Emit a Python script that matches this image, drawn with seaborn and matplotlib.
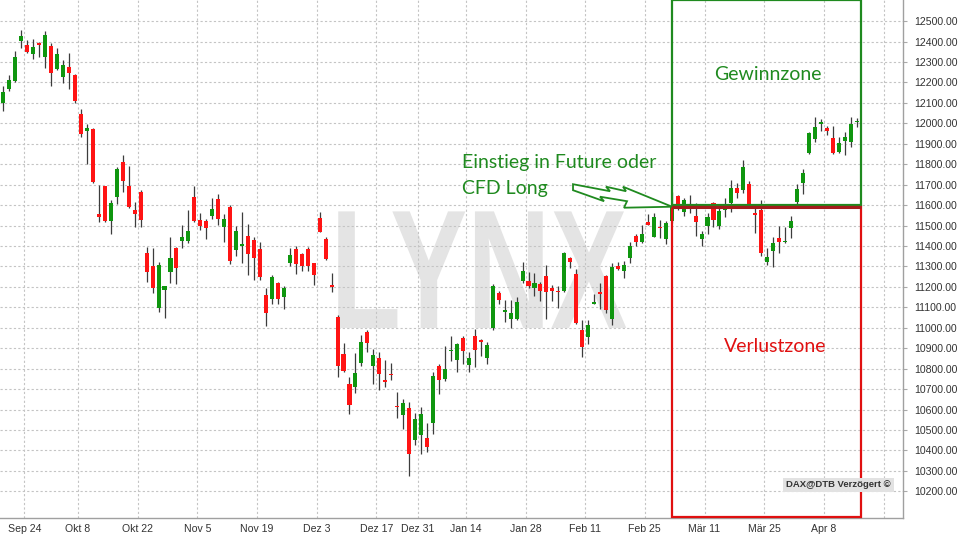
import numpy as np
import pandas as pd
import matplotlib
matplotlib.use("Agg")
import matplotlib.pyplot as plt
from matplotlib.patches import Rectangle, Polygon
from matplotlib.transforms import IdentityTransform, Affine2D
from matplotlib.patheffects import AbstractPathEffect
import seaborn as sns

# ---------------- data ----------------
holidays = ["2018-10-03", "2018-12-24", "2018-12-25", "2018-12-26", "2018-12-31", "2019-01-01"]
calendar = [d for d in pd.bdate_range("2018-09-18", "2019-04-26") if d.strftime("%Y-%m-%d") not in holidays]

opens = [12098, 12166, 12207, 12402, 12381, 12339, 12393, 12326, 12378, 12264,
         12228, 12274, 12235, 12044, 11964, 11974, 11557, 11691, 11523, 11638,
         11809, 11695, 11577, 11664, 11365, 11300, 11096, 11186, 11275, 11392,
         11422, 11422, 11640, 11526, 11521, 11547, 11632, 11493, 11593, 11381,
         11400, 11449, 11430, 11387, 11159, 11139, 11218, 11151, 11319, 11384,
         11360, 11384, 11315, 11537, 11433, 11207, 11052, 10873, 10726, 10710,
         10829, 10979, 10813, 10853, 10741, 10774, 10618, 10572, 10607, 10453,
         10474, 10463, 10534, 10813, 10751, 10887, 10840, 10950, 10819, 10958,
         10937, 10852, 10998, 11171, 11081, 11045, 11045, 11230, 11230, 11192,
         11213, 11253, 11195, 11178, 11181, 11339, 11261, 10988, 10956, 11120,
         11173, 11253, 11045, 11301, 11279, 11339, 11448, 11421, 11518, 11445,
         11493, 11432, 11520, 11644, 11568, 11585, 11546, 11432, 11498, 11612,
         11498, 11576, 11608, 11682, 11674, 11703, 11563, 11576, 11323, 11377,
         11437, 11419, 11489, 11617, 11706, 11853, 11923, 11995, 11976, 11927,
         11861, 11915, 11910, 12006]
highs = [12182, 12236, 12355, 12456, 12407, 12412, 12396, 12453, 12394, 12370,
         12309, 12345, 12241, 12070, 11997, 11976, 11699, 11694, 11625, 11788,
         11845, 11793, 11617, 11674, 11394, 11389, 11324, 11205, 11446, 11397,
         11501, 11575, 11694, 11560, 11531, 11637, 11653, 11555, 11599, 11498,
         11568, 11506, 11446, 11417, 11192, 11257, 11224, 11205, 11392, 11400,
         11364, 11397, 11319, 11568, 11446, 11270, 11060, 10925, 10759, 10878,
         10967, 10987, 10897, 10881, 10840, 10827, 10686, 10653, 10635, 10583,
         10612, 10534, 10783, 10824, 10909, 10959, 10925, 10958, 10881, 10995,
         10946, 10930, 11215, 11179, 11138, 11135, 11151, 11323, 11274, 11269,
         11225, 11306, 11208, 11204, 11372, 11347, 11287, 11040, 11037, 11164,
         11217, 11258, 11318, 11323, 11328, 11421, 11458, 11502, 11556, 11559,
         11527, 11523, 11665, 11649, 11633, 11649, 11608, 11475, 11560, 11617,
         11584, 11633, 11723, 11710, 11821, 11719, 11584, 11625, 11388, 11445,
         11498, 11491, 11546, 11701, 11777, 11959, 12029, 12021, 11989, 11987,
         11931, 11959, 12029, 12024]
lows = [12062, 12160, 12204, 12366, 12342, 12314, 12322, 12269, 12184, 12261,
        12199, 12168, 12098, 11935, 11801, 11710, 11515, 11515, 11458, 11606,
        11666, 11585, 11495, 11495, 11226, 11169, 11077, 11047, 11221, 11213,
        11389, 11413, 11518, 11479, 11436, 11534, 11501, 11420, 11311, 11351,
        11319, 11257, 11234, 11234, 11009, 11115, 11115, 11094, 11302, 11262,
        11278, 11278, 11208, 11466, 11332, 11175, 10759, 10783, 10580, 10681,
        10811, 10881, 10726, 10697, 10710, 10743, 10560, 10507, 10274, 10425,
        10381, 10393, 10482, 10678, 10738, 10835, 10783, 10824, 10783, 10808,
        10860, 10821, 10987, 11117, 11029, 11001, 11037, 11217, 11192, 11155,
        11130, 11045, 11132, 11099, 11176, 11290, 11018, 10858, 10923, 11116,
        11094, 11073, 11013, 11282, 11241, 11315, 11399, 11416, 11502, 11442,
        11437, 11409, 11510, 11575, 11546, 11560, 11449, 11401, 11458, 11494,
        11481, 11540, 11568, 11633, 11657, 11600, 11462, 11351, 11307, 11299,
        11364, 11413, 11437, 11605, 11654, 11850, 11910, 11964, 11943, 11850,
        11853, 11845, 11886, 11980]
closes = [12155, 12212, 12326, 12428, 12350, 12373, 12383, 12433, 12244, 12337,
          12285, 12244, 12109, 11946, 11977, 11712, 11541, 11524, 11612, 11775,
          11718, 11590, 11557, 11528, 11275, 11194, 11308, 11202, 11340, 11294,
          11446, 11474, 11523, 11498, 11487, 11580, 11531, 11531, 11327, 11474,
          11412, 11360, 11343, 11250, 11071, 11247, 11139, 11192, 11355, 11311,
          11302, 11302, 11258, 11469, 11335, 11203, 10813, 10787, 10621, 10779,
          10930, 10927, 10865, 10772, 10737, 10770, 10614, 10632, 10381, 10555,
          10580, 10417, 10764, 10746, 10800, 10891, 10919, 10886, 10852, 10889,
          10933, 10914, 11202, 11137, 11085, 11073, 11127, 11279, 11204, 11220,
          11181, 11173, 11181, 11174, 11367, 11323, 11021, 10907, 11013, 11124,
          11169, 11089, 11298, 11287, 11306, 11399, 11421, 11458, 11505, 11540,
          11489, 11514, 11590, 11595, 11625, 11595, 11519, 11458, 11540, 11527,
          11571, 11592, 11682, 11657, 11785, 11605, 11551, 11364, 11344, 11416,
          11421, 11423, 11524, 11679, 11755, 11954, 11984, 12008, 11962, 11853,
          11905, 11935, 11997, 12010]

tick_dates = ["2018-09-24", "2018-10-08", "2018-10-22", "2018-11-05", "2018-11-19",
              "2018-12-03", "2018-12-17", "2018-12-31", "2019-01-14", "2019-01-28",
              "2019-02-11", "2019-02-25", "2019-03-11", "2019-03-25", "2019-04-08",
              "2019-04-22"]
tick_labels = ["Sep 24", "Okt 8", "Okt 22", "Nov 5", "Nov 19", "Dez 3", "Dez 17",
               "Dez 31", "Jan 14", "Jan 28", "Feb 11", "Feb 25", "Mär 11", "Mär 25",
               "Apr 8", ""]
price_ticks = list(range(10200, 12501, 100))

entry_price = 11592

# ---------------- style ----------------
sns.set_style("white")
plt.rcParams["font.family"] = ["Liberation Sans", "DejaVu Sans"]

GREEN = "#0f960f"
RED = "#ff1414"
WICK = "#3c3c3c"
GRID = "#c4c4c4"
ZONE_GREEN = "#1f8a1f"
ZONE_RED = "#e01010"


class HSqueeze(AbstractPathEffect):
    """Compress glyphs horizontally around a display x position."""

    def __init__(self, sx, x0):
        super().__init__()
        self.sx = sx
        self.x0 = x0

    def draw_path(self, renderer, gc, tpath, affine, rgbFace=None):
        t = affine + Affine2D().translate(-self.x0, 0).scale(self.sx, 1).translate(self.x0, 0)
        renderer.draw_path(gc, tpath, t, rgbFace)


fig = plt.figure(figsize=(9.6, 5.4), dpi=100)
ax = fig.add_axes([0, 1 - 517.5 / 540, 903 / 960, 517.5 / 540])

df = pd.DataFrame({"date": calendar[:len(opens)], "open": opens, "high": highs,
                   "low": lows, "close": closes})
df["i"] = np.arange(len(df))

# candles
up = df["close"] >= df["open"]
ax.vlines(df["i"], df["low"], df["high"], color=WICK, lw=0.9, zorder=3)
body_low = np.minimum(df["open"], df["close"])
body_h = np.abs(df["close"] - df["open"])
min_h = 7
bottom = np.where(body_h < min_h, (df["open"] + df["close"]) / 2 - min_h / 2, body_low)
height = np.maximum(body_h, min_h)
ax.bar(df["i"], height, bottom=bottom, width=0.68,
       color=np.where(up, GREEN, RED), edgecolor="none", zorder=4)

# axes limits
ax.set_xlim(-0.57, 150.76)
ax.set_ylim(10072, 12603)

# ticks
cal_str = [d.strftime("%Y-%m-%d") for d in calendar]
tick_pos = []
for t in tick_dates:
    pos = next(k for k, d in enumerate(cal_str) if d >= t)
    tick_pos.append(pos - 0.5)
ax.set_xticks(tick_pos)
ax.set_xticklabels(tick_labels, fontsize=7.6, color="#333333")
ax.set_yticks(price_ticks)
ax.set_yticklabels([f"{v:.2f}" for v in price_ticks], fontsize=7.6, color="#333333")
ax.yaxis.tick_right()
ax.tick_params(axis="y", length=3, color="#aaaaaa", pad=5)
ax.tick_params(axis="x", length=3, color="#aaaaaa", pad=2)

ax.grid(True, color=GRID, lw=0.8, linestyle=(0, (2, 2)), zorder=1)
ax.set_axisbelow(True)
for s in ["left", "top"]:
    ax.spines[s].set_visible(False)
for s in ["right", "bottom"]:
    ax.spines[s].set_color("#a0a0a0")
    ax.spines[s].set_linewidth(1.0)

# watermark (one real text, squeezed horizontally)
wm_x, wm_y = 79.7, 10999
x0_disp = ax.transData.transform((wm_x, wm_y))[0]
ax.text(wm_x, wm_y, "LYNX", fontsize=122, fontweight="bold", color="#e4e4e4",
        va="baseline", ha="center", zorder=0.5, family=["Liberation Sans", "DejaVu Sans"],
        path_effects=[HSqueeze(0.68, x0_disp)])

# zones
box_x0 = 112.05
box_x1 = 143.75
ax.add_patch(Rectangle((box_x0, entry_price + 8), box_x1 - box_x0, 12603 - entry_price - 8,
                       fill=False, edgecolor=ZONE_GREEN, lw=1.6, zorder=6, clip_on=False))
ax.add_patch(Rectangle((box_x0, 10074), box_x1 - box_x0, entry_price - 10074,
                       fill=False, edgecolor=ZONE_RED, lw=1.6, zorder=6, clip_on=False))
ax.plot([box_x0, box_x1], [entry_price - 3, entry_price - 3], color="#a41c1c", lw=2.2,
        zorder=7, solid_capstyle="butt")

txt_font = ["Lato", "DejaVu Sans"]
ax.text(128.1, 12241, "Gewinnzone", color=ZONE_GREEN, fontsize=14, ha="center",
        va="center", family=txt_font, zorder=8)
ax.text(129.3, 10906, "Verlustzone", color=ZONE_RED, fontsize=14, ha="center",
        va="center", family=txt_font, zorder=8)
ax.text(76.9, 11810, "Einstieg in Future oder", color=ZONE_GREEN, fontsize=14,
        ha="left", va="center", family=txt_font, zorder=8)
ax.text(76.9, 11683, "CFD Long", color=ZONE_GREEN, fontsize=14, ha="left",
        va="center", family=txt_font, zorder=8)

# lightning arrow pointing to the entry
tip = ax.transData.transform((box_x0, entry_price))
outline = np.array([(573, 184), (610, 191), (606, 186.5), (626, 191), (623, 186.5),
                    (672, 206.5), (624, 207.5), (627, 201), (600, 196.5), (604, 201),
                    (573, 190)])
outline = outline - np.array([672, 206.5])
pts = np.column_stack([tip[0] + outline[:, 0], tip[1] - outline[:, 1]])
fig.add_artist(Polygon(pts, closed=True, facecolor="white", edgecolor=ZONE_GREEN,
                       lw=1.3, transform=IdentityTransform(), zorder=9))

# data source label
ax.text(148.7, 10231, "DAX@DTB Verzögert ©", fontsize=6.8, fontweight="bold",
        color="#333333", ha="right", va="center", zorder=8,
        bbox=dict(boxstyle="square,pad=0.3", facecolor="#e2e2e2", edgecolor="none"))

fig.savefig("out.png", dpi=100)
